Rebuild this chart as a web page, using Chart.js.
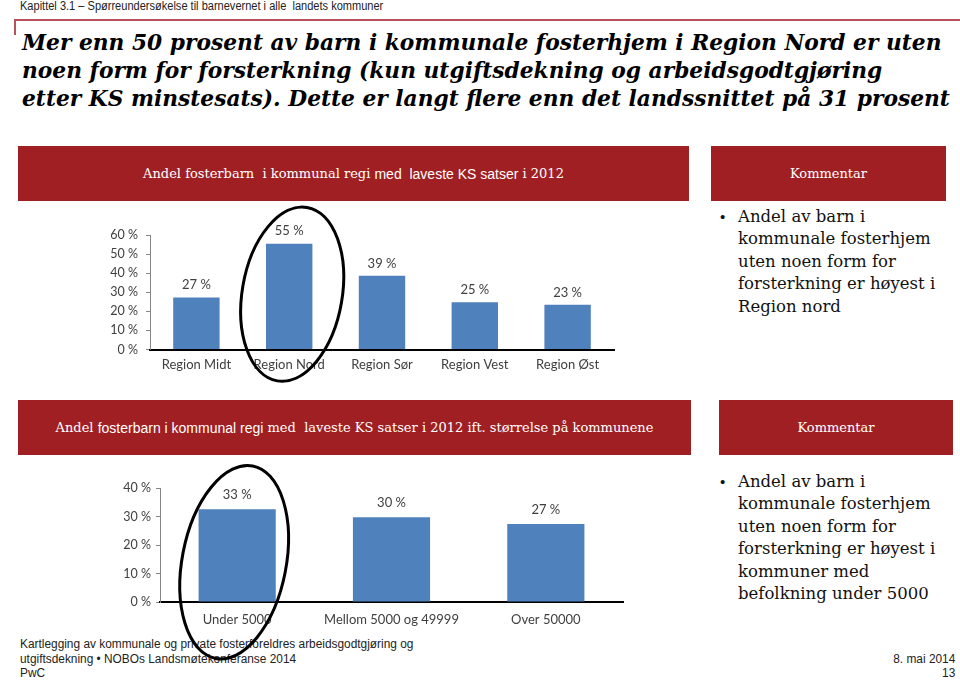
<!DOCTYPE html>
<html><head><meta charset="utf-8">
<script src="https://cdn.jsdelivr.net/npm/chart.js@4.4.1/dist/chart.umd.min.js"></script>
<style>
html,body{margin:0;padding:0}
body{width:960px;height:680px;position:relative;background:#fff;overflow:hidden;font-family:"Liberation Sans",Arial,sans-serif}
.abs{position:absolute}
.hdr{left:20px;top:-1px;font-size:12px;color:#222;white-space:nowrap;transform-origin:0 0;transform:scaleX(0.92)}
.rule{left:14px;top:19px;width:946px;height:0;border-top:2px solid #b9505e}
.rule2{left:14px;top:19px;width:0;height:16px;border-left:2px solid #b9505e}
.title{left:22px;font-family:"DejaVu Serif",serif;font-weight:bold;font-style:italic;white-space:nowrap;color:#000;line-height:28px}
.box{background:#a01f22;color:#fff;display:flex;align-items:center;justify-content:center;white-space:nowrap;font-size:14px}
.sf{font-family:"DejaVu Serif",serif;font-size:13px}
.ss{font-family:"Liberation Sans",Arial,sans-serif;font-size:14px}
.cmt{left:720px;font-family:"DejaVu Serif",serif;font-size:16.5px;line-height:22.4px;color:#111}
.cmt .b{position:absolute;left:0;top:0;font-family:"Liberation Sans",Arial,sans-serif;font-size:15px}
.cmt .t{margin-left:18px;white-space:nowrap}
.foot{font-family:"Liberation Sans",sans-serif;font-size:12.5px;color:#222;white-space:nowrap;line-height:14.5px;transform:scaleX(0.95)}
canvas{position:absolute}
</style></head>
<body>
<div class="abs hdr">Kapittel 3.1 – Spørreundersøkelse til barnevernet i alle&nbsp; landets kommuner</div>
<div class="abs rule"></div><div class="abs rule2"></div>
<div class="abs title" id="t1" style="top:29px">Mer enn 50 prosent av barn i kommunale fosterhjem i Region Nord er uten</div>
<div class="abs title" id="t2" style="top:57px">noen form for forsterkning (kun utgiftsdekning og arbeidsgodtgjøring</div>
<div class="abs title" id="t3" style="top:85px">etter KS minstesats). Dette er langt flere enn det landssnittet på 31 prosent</div>

<div class="abs box" style="left:18px;top:146px;width:671px;height:55px"><span class="sf">Andel fosterbarn&nbsp; i kommunal regi&nbsp;</span><span class="ss">med&nbsp; laveste KS satser</span><span class="sf">&nbsp;i 2012</span></div>
<div class="abs box" style="left:711px;top:146px;width:235px;height:55px"><span class="sf">Kommentar</span></div>
<div class="abs cmt" style="top:206px"><span class="b">•</span><div class="t">Andel av barn i<br>kommunale fosterhjem<br>uten noen form for<br>forsterkning er høyest i<br>Region nord</div></div>

<div class="abs box" style="left:18px;top:400px;width:673px;height:55px"><span class="sf">Andel&nbsp;</span><span class="ss">fosterbarn i kommunal regi</span><span class="sf">&nbsp;med&nbsp; laveste KS satser i 2012 ift. størrelse på kommunene</span></div>
<div class="abs box" style="left:719px;top:400px;width:234px;height:55px"><span class="sf">Kommentar</span></div>
<div class="abs cmt" style="top:471px"><span class="b">•</span><div class="t">Andel av barn i<br>kommunale fosterhjem<br>uten noen form for<br>forsterkning er høyest i<br>kommuner med<br>befolkning under 5000</div></div>

<div class="abs foot" style="left:20px;top:637px;transform-origin:0 0">Kartlegging av kommunale og private fosterforeldres arbeidsgodtgjøring og<br>utgiftsdekning • NOBOs Landsmøtekonferanse 2014<br>PwC</div>
<div class="abs foot" style="right:5px;top:651.5px;text-align:right;transform-origin:100% 0">8. mai 2014<br>13</div>

<canvas id="c1" width="530" height="190" style="left:100px;top:200px"></canvas>
<canvas id="c2" width="540" height="210" style="left:100px;top:455px"></canvas>

<script>
// ---- data ----
const regions = ['Region Midt', 'Region Nord', 'Region Sør', 'Region Vest', 'Region Øst'];
const regionShares = [27.2, 55.4, 38.6, 24.8, 23.4];
const regionTickMax = 60;
const sizeGroups = ['Under 5000', 'Mellom 5000 og 49999', 'Over 50000'];
const sizeShares = [32.6, 29.8, 27.4];
const sizeTickMax = 40;
const tickStep = 10;

// fit title
(function(){
  const t1 = document.getElementById('t1');
  let fs = 24; t1.style.fontSize = fs + 'px';
  const w = t1.getBoundingClientRect().width;
  fs = fs * 920 / w;
  ['t1','t2','t3'].forEach(id => document.getElementById(id).style.fontSize = fs + 'px');
})();

const barLabels = {
  id: 'barLabels',
  afterDatasetsDraw(chart, args, opts) {
    const ctx = chart.ctx, meta = chart.getDatasetMeta(0), data = chart.data.datasets[0].data;
    ctx.save();
    ctx.font = '13px Lato, "Open Sans", sans-serif';
    ctx.fillStyle = '#404040'; ctx.textAlign = 'center'; ctx.textBaseline = 'bottom';
    meta.data.forEach((bar, i) => ctx.fillText(Math.round(data[i]) + ' %', bar.x, bar.y - opts.offset));
    ctx.restore();
  }
};
const ring = {
  id: 'ring',
  afterDraw(chart, args, opts) {
    const ctx = chart.ctx, bar = chart.getDatasetMeta(0).data[opts.index];
    const y = chart.scales.y.getPixelForValue(opts.value);
    ctx.save();
    ctx.beginPath();
    ctx.ellipse(bar.x + opts.dx, y, opts.rx, opts.ry, opts.rot, 0, Math.PI * 2);
    ctx.lineWidth = 3; ctx.strokeStyle = '#000'; ctx.stroke();
    ctx.restore();
  }
};

function makeChart(id, labels, values, max, pad, yWidth, yPad, xPad, ringOpts, labelOffset) {
  return new Chart(document.getElementById(id), {
    type: 'bar',
    data: { labels, datasets: [{ data: values, backgroundColor: '#4f81bd', barPercentage: 0.5, categoryPercentage: 1 }] },
    options: {
      responsive: false, animation: false,
      layout: { padding: pad },
      plugins: { legend: { display: false }, tooltip: { enabled: false }, barLabels: { offset: labelOffset }, ring: ringOpts },
      scales: {
        x: {
          grid: { display: false, drawTicks: false },
          border: { display: true, color: '#000', width: 2 },
          ticks: { color: '#404040', font: { family: 'Lato', size: 13 }, padding: xPad, maxRotation: 0, autoSkip: false },
          afterFit(s) { s.height = 30; }
        },
        y: {
          min: 0, max: max,
          ticks: { stepSize: tickStep, callback: v => v + ' %', color: '#404040', font: { family: 'Lato', size: 12.5 }, padding: yPad },
          grid: { display: true, drawOnChartArea: false, drawTicks: true, tickLength: 4, color: '#868686' },
          border: { display: true, color: '#868686', width: 1 },
          afterFit(s) { s.width = yWidth; }
        }
      }
    },
    plugins: [barLabels, ring]
  });
}

makeChart('c1', regions, regionShares, regionTickMax,
  { top: 35, right: 16, bottom: 10.5, left: 0 }, 50, 8, 8,
  { index: 1, value: 29, dx: 3, rx: 50, ry: 88, rot: 0.17 }, 6);
makeChart('c2', sizeGroups, sizeShares, sizeTickMax,
  { top: 33.3, right: 17, bottom: 33, left: 0 }, 60, 5, 10,
  { index: 0, value: 14, dx: -3, rx: 52, ry: 98, rot: 0.19 }, 8);
</script>
</body></html>
